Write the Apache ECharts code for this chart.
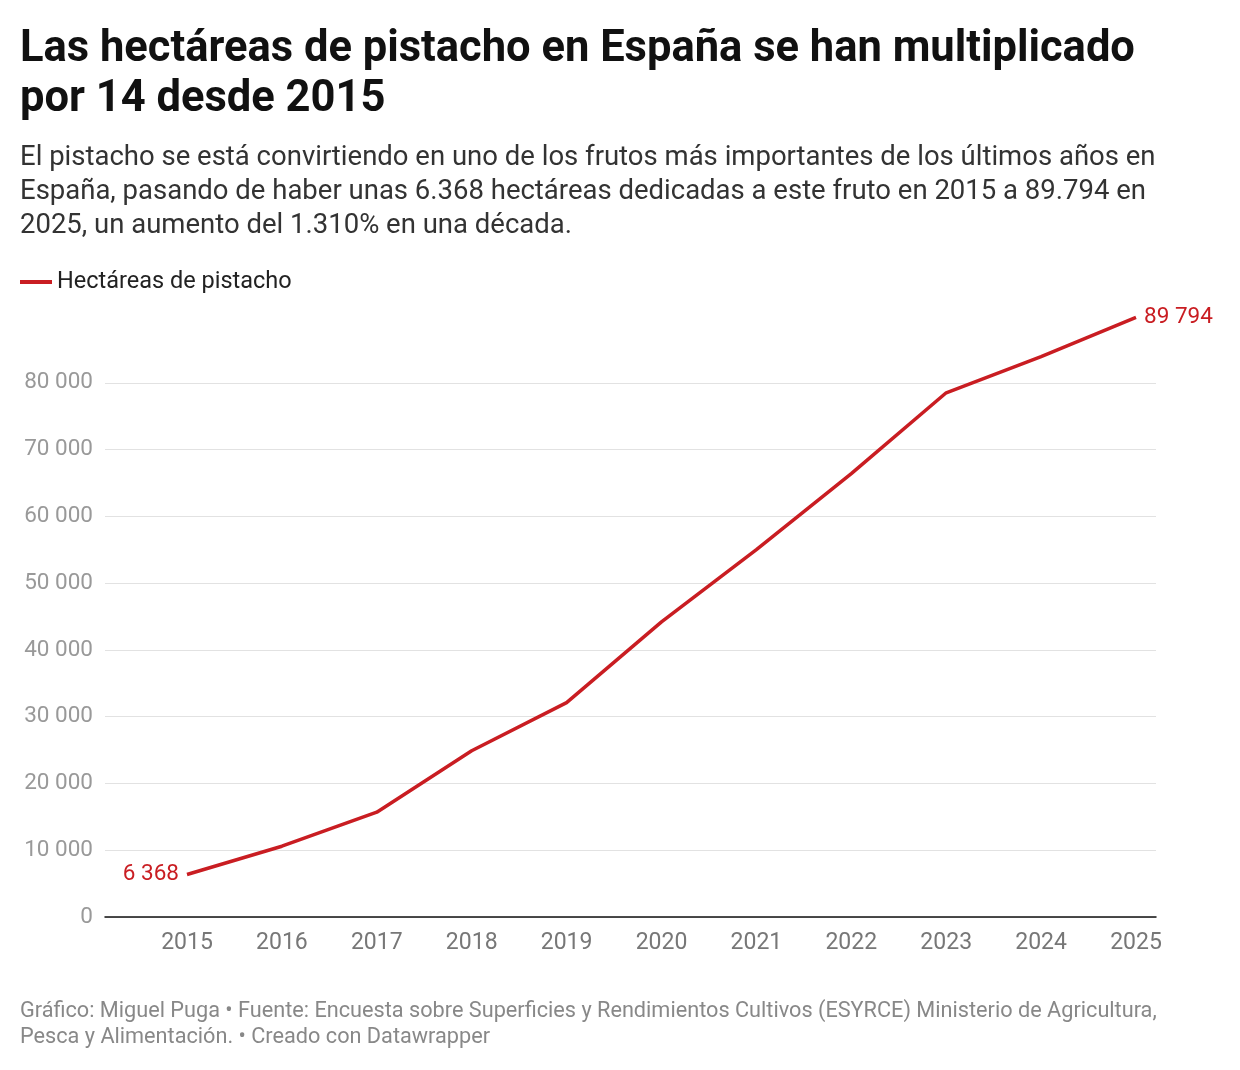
<!DOCTYPE html>
<html><head><meta charset="utf-8">
<script src="https://cdn.jsdelivr.net/npm/echarts@6/dist/echarts.min.js"></script>
<style>html,body{margin:0;padding:0;background:#fff}#c{width:1240px;height:1070px}</style>
</head><body><div id="c"></div>
<script>
const years = [2015,2016,2017,2018,2019,2020,2021,2022,2023,2024,2025];
const hectares = [6368,10600,15700,24900,32100,44200,55000,66400,78500,83900,89794];
const yTicks = [0,10000,20000,30000,40000,50000,60000,70000,80000];
const fmt = v => String(v).replace(/\B(?=(\d{3})+(?!\d))/g,' ');
const red = '#c91d22';
const F = 'Roboto';
const chart = echarts.init(document.getElementById('c'));
const data = years.map((y,i)=>{
  const d = {value:[y,hectares[i]]};
  if(i===0) d.label={show:true,position:'left',distance:8,formatter:p=>fmt(p.value[1])};
  if(i===years.length-1) d.label={show:true,position:'right',distance:8,formatter:p=>fmt(p.value[1])};
  return d;
});
chart.setOption({
  animation:false,
  textStyle:{fontFamily:F},
  title:[
    {text:'Las hectáreas de pistacho en España se han multiplicado\npor 14 desde 2015',left:15,top:20,
     textStyle:{fontFamily:F,fontSize:43.5,fontWeight:'bold',color:'#111',lineHeight:50}},
    {text:'El pistacho se está convirtiendo en uno de los frutos más importantes de los últimos años en\nEspaña, pasando de haber unas 6.368 hectáreas dedicadas a este fruto en 2015 a 89.794 en\n2025, un aumento del 1.310% en una década.',left:15,top:136,
     textStyle:{fontFamily:F,fontSize:27.5,fontWeight:'normal',color:'#333',lineHeight:34}},
    {text:'Gráfico: Miguel Puga • Fuente: Encuesta sobre Superficies y Rendimientos Cultivos (ESYRCE) Ministerio de Agricultura,\nPesca y Alimentación. • Creado con Datawrapper',left:15,top:994,
     textStyle:{fontFamily:F,fontSize:21.7,fontWeight:'normal',color:'#888',lineHeight:26}}
  ],
  legend:{left:15,top:265,icon:'rect',itemWidth:32,itemHeight:4,itemGap:6,
    textStyle:{fontFamily:F,fontSize:23.5,color:'#222'},data:['Hectáreas de pistacho']},
  grid:{left:105,right:84,top:316,bottom:153,containLabel:false},
  xAxis:{type:'value',min:2015-82/94.9,max:2025+20/94.9,
    axisLine:{show:true,lineStyle:{color:'#111',width:1.5}},
    axisTick:{show:false},splitLine:{show:false},
    axisLabel:{customValues:years,formatter:v=>String(v),fontSize:23,color:'#777',margin:15,fontFamily:F}},
  yAxis:{type:'value',min:0,max:89999,interval:10000,
    axisLine:{show:false},axisTick:{show:false},
    splitLine:{showMaxLine:false,lineStyle:{color:'#e2e2e2',width:1.2}},
    axisLabel:{showMaxLabel:false,formatter:v=>v>80000?'':fmt(v),fontSize:22.5,color:'#999',margin:12,fontFamily:F}},
  series:[{name:'Hectáreas de pistacho',type:'line',data:data,symbol:'circle',symbolSize:0.1,showSymbol:true,
    lineStyle:{color:red,width:3.5},itemStyle:{color:red},
    label:{color:red,fontSize:22.5,fontFamily:F}}]
});
</script></body></html>
